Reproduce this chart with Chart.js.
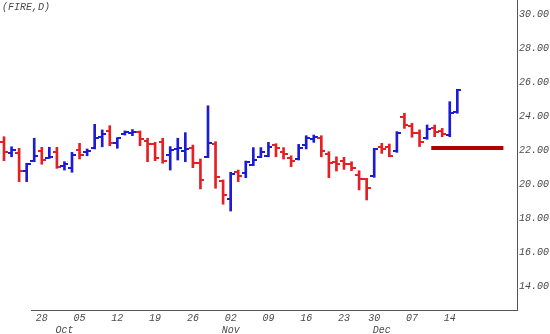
<!DOCTYPE html>
<html>
<head>
<meta charset="utf-8">
<script src="https://cdn.jsdelivr.net/npm/chart.js@4.4.1/dist/chart.umd.min.js"></script>
<style>
  html, body { margin: 0; padding: 0; background: #fff; }
  #wrap { position: relative; width: 550px; height: 334px; }
</style>
</head>
<body>
<div id="wrap"><canvas id="c" width="550" height="334"></canvas></div>
<script>
// ---- data (FIRE, daily, 2009) ----
const dates = [
  '09-21','09-22','09-23','09-24','09-25',
  '09-28','09-29','09-30','10-01','10-02',
  '10-05','10-06','10-07','10-08','10-09',
  '10-12','10-13','10-14','10-15','10-16',
  '10-19','10-20','10-21','10-22','10-23',
  '10-26','10-27','10-28','10-29','10-30',
  '11-02','11-03','11-04','11-05','11-06',
  '11-09','11-10','11-11','11-12','11-13',
  '11-16','11-17','11-18','11-19','11-20',
  '11-23','11-24','11-25','11-27',
  '11-30','12-01','12-02','12-03','12-04',
  '12-07','12-08','12-09','12-10','12-11',
  '12-14','12-15'
];
const opens = [22.45,21.80,21.80,20.76,21.37,21.96,21.55,21.90,21.06,20.96,22.00,21.86,22.10,22.75,23.14,
  22.43,22.95,23.00,23.04,22.55,22.33,22.45,21.70,22.05,21.94,22.14,21.22,21.60,22.33,20.18,
  19.12,20.69,20.63,21.12,21.60,21.66,22.29,21.90,21.51,21.47,22.29,22.63,22.72,21.75,21.31,
  21.35,21.18,20.53,20.27,20.47,22.20,22.20,21.96,23.96,23.41,22.98,22.69,23.27,23.14,22.88,24.25];
const highs = [22.78,22.19,22.10,21.22,22.69,22.16,22.16,22.16,21.31,21.86,22.39,22.06,23.51,23.18,23.43,
  22.72,23.12,23.20,23.12,22.69,22.45,22.69,22.20,22.69,23.02,22.29,21.47,24.60,22.49,20.24,
  20.69,20.82,21.35,22.14,22.14,22.45,22.37,22.14,21.66,22.33,22.84,22.88,22.84,21.90,21.60,
  21.57,21.31,20.78,20.33,22.10,22.39,22.35,23.08,24.16,23.57,23.18,23.47,23.47,23.27,24.84,25.57];
const lows = [21.37,21.60,20.14,20.14,21.31,21.16,21.51,20.92,20.82,20.69,21.47,21.66,22.06,22.19,22.25,
  22.10,22.88,22.84,22.25,21.31,21.37,21.22,20.82,21.41,21.31,20.96,19.71,21.55,19.75,18.81,
  18.41,20.14,20.37,21.08,21.55,21.60,21.60,21.47,21.02,21.41,22.06,22.45,21.60,20.37,20.76,
  20.86,20.78,19.65,19.06,20.39,21.80,21.60,21.86,23.27,22.75,22.20,22.63,22.78,22.78,22.78,24.16];
const closes = [21.90,22.00,20.76,21.16,21.66,21.41,21.60,21.02,21.19,21.70,21.70,21.96,22.72,22.92,22.39,
  22.69,23.05,23.06,22.65,22.33,21.51,21.35,22.00,22.10,22.04,21.22,20.24,22.43,20.43,19.35,
  20.57,20.49,21.31,21.41,21.86,22.20,22.10,21.75,21.35,22.14,22.69,22.78,21.94,21.22,21.20,
  21.16,20.92,20.27,19.75,22.04,22.04,21.65,22.98,23.47,22.98,22.49,23.22,23.08,22.94,24.16,25.53];

// horizontal reference level drawn at the right
const levelValue = 22.12;
const levelFrom = 56.55;   // in bar-index units
const levelTo = 66.1;

// tick labels
const weekTickIndex = [5,10,15,20,25,30,35,40,45,49,54,59];
const weekTickLabels = ['28','05','12','19','26','02','09','16','23','30','07','14'];
const monthTickIndex = [8,30,50];
const monthTickLabels = ['Oct','Nov','Dec'];
const priceTicks = [14,16,18,20,22,24,26,28,30];
const symbolLabel = '(FIRE,D)';

// ---- styling ----
const RED = 'rgb(228,32,36)';
const BLUE = 'rgb(28,28,214)';
const TEXT = '#4a4a4a';
const FONT = { family: "'Liberation Mono', 'DejaVu Sans Mono', monospace", size: 10, style: 'italic' };

function tickImg(color, side) {
  const c = document.createElement('canvas');
  c.width = 8; c.height = 2;
  const g = c.getContext('2d');
  g.fillStyle = color;
  if (side === 'left') g.fillRect(0, 0, 4, 2); else g.fillRect(4, 0, 4, 2);
  return c;
}
const imgs = {
  lr: tickImg(RED, 'left'), lb: tickImg(BLUE, 'left'),
  rr: tickImg(RED, 'right'), rb: tickImg(BLUE, 'right')
};
const isUp = i => closes[i] >= opens[i];

const rangeData = dates.map((d, i) => ({ x: i, y: [lows[i], highs[i]] }));
const openData = dates.map((d, i) => ({ x: i, y: opens[i] }));
const closeData = dates.map((d, i) => ({ x: i, y: closes[i] }));

const tickMap = {};
weekTickIndex.forEach((idx, k) => { tickMap[idx] = [weekTickLabels[k], '']; });
monthTickIndex.forEach((idx, k) => {
  if (tickMap[idx]) tickMap[idx][1] = monthTickLabels[k]; else tickMap[idx] = ['', monthTickLabels[k]];
});
const xTickValues = Object.keys(tickMap).map(Number).sort((a, b) => a - b);

const overlay = {
  id: 'overlay',
  afterDraw(chart) {
    const { ctx, chartArea } = chart;
    ctx.save();
    ctx.strokeStyle = '#555';
    ctx.lineWidth = 1;
    ctx.beginPath();
    ctx.moveTo(31, chartArea.bottom + 0.5);
    ctx.lineTo(chartArea.right + 0.5, chartArea.bottom + 0.5);
    ctx.stroke();
    ctx.fillStyle = TEXT;
    ctx.font = "italic 10px 'Liberation Mono', 'DejaVu Sans Mono', monospace";
    ctx.textBaseline = 'middle';
    ctx.fillText(symbolLabel, 2, 7);
    ctx.restore();
  }
};

new Chart(document.getElementById('c'), {
  type: 'bar',
  data: {
    datasets: [
      {
        type: 'line', data: [{ x: levelFrom, y: levelValue }, { x: levelTo, y: levelValue }],
        borderColor: 'rgb(178,0,0)', borderWidth: 4, pointRadius: 0, borderCapStyle: 'butt', order: 0
      },
      {
        type: 'bar', data: rangeData, barThickness: 2,
        backgroundColor: c => isUp(c.dataIndex) ? BLUE : RED, order: 2
      },
      {
        type: 'line', data: openData, showLine: false, pointRadius: 4,
        pointStyle: c => isUp(c.dataIndex) ? imgs.lb : imgs.lr, order: 1
      },
      {
        type: 'line', data: closeData, showLine: false, pointRadius: 4,
        pointStyle: c => isUp(c.dataIndex) ? imgs.rb : imgs.rr, order: 1
      }
    ]
  },
  options: {
    responsive: false,
    animation: false,
    events: [],
    layout: { padding: 0, autoPadding: false },
    plugins: { legend: { display: false }, tooltip: { enabled: false }, title: { display: false } },
    scales: {
      x: {
        type: 'linear', min: -0.53, max: 67.9, offset: false,
        grid: { display: false, drawTicks: false },
        border: { display: false },
        afterBuildTicks: s => { s.ticks = xTickValues.map(v => ({ value: v })); },
        afterFit: s => { s.height = 24; s.paddingLeft = 0; s.paddingRight = 0; },
        ticks: {
          autoSkip: false, maxRotation: 0, padding: 2, color: TEXT, font: FONT,
          callback: v => tickMap[v] || ''
        }
      },
      y: {
        type: 'linear', position: 'right', min: 12.59, max: 30.82,
        grid: { display: false, drawTicks: false },
        border: { display: true, color: '#555', width: 1 },
        afterBuildTicks: s => { s.ticks = priceTicks.map(v => ({ value: v })); },
        afterFit: s => { s.width = 33; s.paddingTop = 0; s.paddingBottom = 0; },
        ticks: {
          padding: 2, color: TEXT, font: FONT,
          callback: v => Number(v).toFixed(2)
        }
      }
    }
  },
  plugins: [overlay]
});
</script>
</body>
</html>
